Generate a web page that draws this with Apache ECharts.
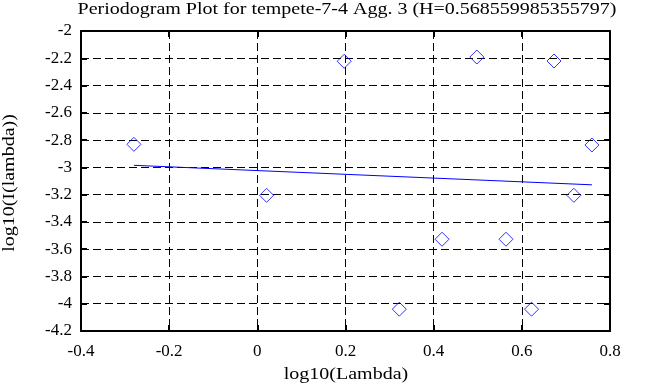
<!DOCTYPE html>
<html><head><meta charset="utf-8">
<script src="https://cdn.jsdelivr.net/npm/echarts@6/dist/echarts.min.js"></script>
<style>html,body{margin:0;padding:0;background:#fff}#c{width:658px;height:387px}</style>
</head><body><div id="c"></div>
<script>
const titleText = 'Periodogram Plot for tempete-7-4 Agg. 3 (H=0.568559985355797)';
const xName = 'log10(Lambda)';
const yName = 'log10(I(lambda))';
const logLambda = [-0.280, 0.021, 0.197, 0.322, 0.419, 0.498, 0.564, 0.622, 0.673, 0.718, 0.759];
const logI = [-2.831, -3.205, -2.222, -4.040, -3.527, -2.191, -3.527, -4.040, -2.220, -3.205, -2.836];
const fitX = [-0.280, 0.759];
const fitY = [-2.985, -3.128];
const xTicks = {min: -0.4, max: 0.8, interval: 0.2};
const yTicks = {min: -4.2, max: -2, interval: 0.2};

const font = 'Liberation Serif';
const chart = echarts.init(document.getElementById('c'), null, {renderer: 'canvas'});
const lbl = {fontFamily: font, fontSize: 17, color: '#000'};
const frameLine = {show: true, onZero: false, lineStyle: {color: '#000', width: 2}};
const tick = {show: true, inside: true, length: 6, lineStyle: {color: '#000', width: 2}};
const grid = {show: true, lineStyle: {color: '#000', width: 1, type: [8, 4]}};
const txt = (text, x, y, rot) => ({
  type: 'text', x: x, y: y, rotation: rot || 0, scaleX: 1.25, silent: true,
  style: {text: text, font: '16px "Liberation Serif"', fill: '#000', align: 'center', verticalAlign: 'middle'}
});
chart.setOption({
  animation: false,
  backgroundColor: '#fff',
  graphic: [
    txt(titleText, 347, 10),
    txt(xName, 346, 375),
    txt(yName, 10, 183, Math.PI / 2)
  ],
  grid: {left: 81, right: 48, top: 31, bottom: 56},
  xAxis: [{
    type: 'value', min: xTicks.min, max: xTicks.max, interval: xTicks.interval,
    axisLine: frameLine, axisTick: tick,
    axisLabel: Object.assign({margin: 12}, lbl),
    splitLine: grid
  }, {
    type: 'value', position: 'top', min: xTicks.min, max: xTicks.max, interval: xTicks.interval,
    axisLine: frameLine, axisTick: tick,
    axisLabel: {show: false}, splitLine: {show: false}
  }],
  yAxis: [{
    type: 'value', min: yTicks.min, max: yTicks.max, interval: yTicks.interval,
    axisLine: frameLine, axisTick: tick,
    axisLabel: Object.assign({margin: 9}, lbl),
    splitLine: grid
  }, {
    type: 'value', position: 'right', min: yTicks.min, max: yTicks.max, interval: yTicks.interval,
    axisLine: frameLine, axisTick: tick,
    axisLabel: {show: false}, splitLine: {show: false}
  }],
  series: [{
    type: 'scatter', xAxisIndex: 0, yAxisIndex: 0,
    data: logLambda.map((x, i) => [x, logI[i]]),
    symbol: 'diamond', symbolSize: 14,
    itemStyle: {color: 'rgba(0,0,0,0)', borderColor: '#0000ff', borderWidth: 1}
  }, {
    type: 'line', xAxisIndex: 0, yAxisIndex: 0,
    data: fitX.map((x, i) => [x, fitY[i]]),
    showSymbol: false, symbol: 'none',
    lineStyle: {color: '#0000ff', width: 1}
  }]
});
</script></body></html>
